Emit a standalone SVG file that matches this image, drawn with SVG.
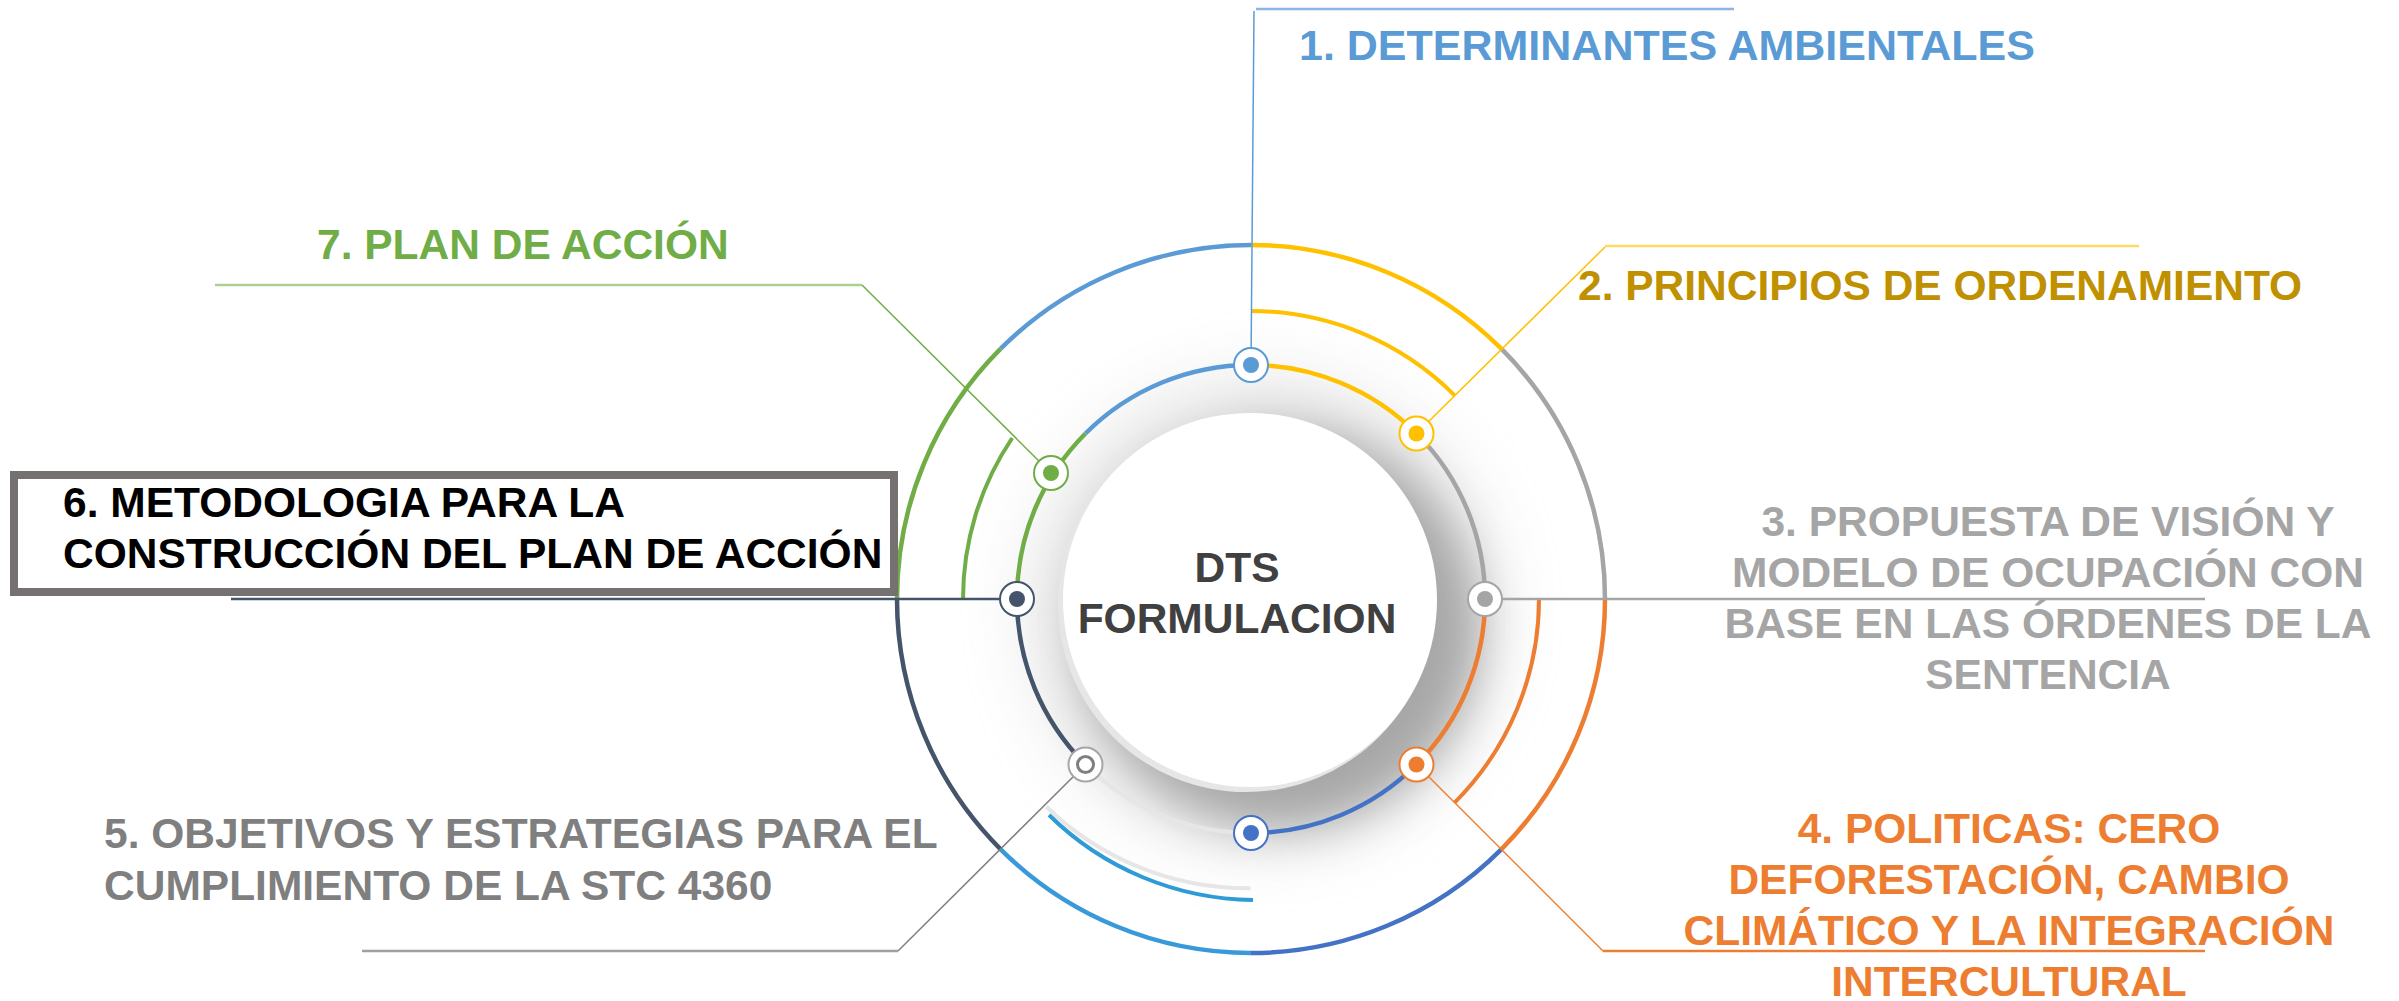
<svg xmlns="http://www.w3.org/2000/svg" width="2399" height="1001" viewBox="0 0 2399 1001">
<defs>
<filter id="blur" x="-50%" y="-50%" width="200%" height="200%"><feGaussianBlur stdDeviation="24"/></filter>
<filter id="blur2" x="-50%" y="-50%" width="200%" height="200%"><feGaussianBlur stdDeviation="35"/></filter>
<style>
.t{font-family:"Liberation Sans",Arial,sans-serif;font-weight:bold;font-size:42.5px}
.ring{fill:none;stroke-width:4.5}
.mid{fill:none;stroke-width:4}
.ld{fill:none;stroke-width:1.5}
.hz{fill:none;stroke-width:2.5}
.oc{fill:#fff;stroke-width:2}
</style>
</defs>
<rect width="2399" height="1001" fill="#fff"/>
<g id="center-shadow">
<circle cx="1262" cy="612" r="230" fill="#b0b0b0" opacity="0.35" filter="url(#blur2)"/>
<circle cx="1280" cy="630" r="200" fill="#6a6a6a" opacity="0.5" filter="url(#blur)"/>
<circle cx="1246" cy="604" r="188" fill="#e6e6e6"/>
<circle cx="1250" cy="600" r="187" fill="#fff"/>
</g>
<g id="outer-ring">
<path class="ring" stroke="#FFC000" d="M1251,245 A354,354 0 0 1 1501.3,348.7"/>
<path class="ring" stroke="#A5A5A5" d="M1501.3,348.7 A354,354 0 0 1 1605,599"/>
<path class="ring" stroke="#ED7D31" d="M1605,599 A354,354 0 0 1 1501.3,849.3"/>
<path class="ring" stroke="#4472C4" d="M1501.3,849.3 A354,354 0 0 1 1251,953"/>
<path class="ring" stroke="#3A9AD9" d="M1251,953 A354,354 0 0 1 1000.7,849.3"/>
<path class="ring" stroke="#44546A" d="M1000.7,849.3 A354,354 0 0 1 897,599"/>
<path class="ring" stroke="#70AD47" d="M897,599 A354,354 0 0 1 1000.7,348.7"/>
<path class="ring" stroke="#5B9BD5" d="M1000.7,348.7 A354,354 0 0 1 1251,245"/>
</g>
<g id="middle-arcs">
<path class="mid" stroke="#FFC000" d="M1251,311 A288,288 0 0 1 1454.6,395.4"/>
<path class="mid" stroke="#ED7D31" d="M1539,599 A288,288 0 0 1 1454.6,802.6"/>
<path class="mid" stroke="#70AD47" stroke-width="3" d="M963,599 A288,288 0 0 1 1012.2,438"/>
<path class="mid" stroke="#E6E6E6" d="M1250.4,888.3 A290,290 0 0 1 1046.4,806.7"/>
<path class="mid" stroke="#2E9BD6" d="M1253,900 A296,296 0 0 1 1049,815"/>
</g>
<g id="inner-ring">
<path class="ring" stroke-width="4" stroke="#FFC000" d="M1251,365 A234,234 0 0 1 1416.5,433.5"/>
<path class="ring" stroke-width="4" stroke="#A5A5A5" d="M1416.5,433.5 A234,234 0 0 1 1485,599"/>
<path class="ring" stroke-width="4" stroke="#ED7D31" d="M1485,599 A234,234 0 0 1 1416.5,764.5"/>
<path class="ring" stroke-width="4" stroke="#4472C4" d="M1416.5,764.5 A234,234 0 0 1 1251,833"/>
<path class="ring" stroke-width="4" stroke="#E6E6E6" d="M1251,833 A234,234 0 0 1 1085.5,764.5"/>
<path class="ring" stroke-width="4" stroke="#44546A" d="M1085.5,764.5 A234,234 0 0 1 1017,599"/>
<path class="ring" stroke-width="4" stroke="#70AD47" d="M1017,599 A234,234 0 0 1 1085.5,433.5"/>
<path class="ring" stroke-width="4" stroke="#5B9BD5" d="M1085.5,433.5 A234,234 0 0 1 1251,365"/>
</g>
<g id="connectors">
<path class="ld" stroke="#5B9BD5" d="M1251,365 L1254,11"/>
<path class="hz" stroke="#8DB4E2" stroke-width="2" d="M1256,9 L1734,9"/>
<path class="ld" stroke="#FFC000" d="M1416.5,433.5 L1605,247"/>
<path class="hz" stroke="#FFD966" stroke-width="2" d="M1605,246 L2139,246"/>
<path class="hz" stroke="#A5A5A5" stroke-width="2" d="M1485,599 L2205,599"/>
<path class="ld" stroke="#ED7D31" d="M1416.5,764.5 L1603,951"/>
<path class="hz" stroke="#ED7D31" stroke-width="2" d="M1603,951 L2205,951"/>
<path class="ld" stroke="#7F7F7F" d="M1085.5,764.5 L898,951"/>
<path class="hz" stroke="#A0A0A0" stroke-width="2" d="M898,951 L362,951"/>
<path class="hz" stroke="#44546A" stroke-width="2" d="M1017,599 L231,599"/>
<path class="ld" stroke="#70AD47" d="M1051,473 L862,285"/>
<path class="hz" stroke="#A9D18E" d="M862,285 L215,285"/>
</g>
<g id="node-1">
<circle class="oc" cx="1251" cy="365" r="17" stroke="#5B9BD5"/>
<circle cx="1251" cy="365" r="8" fill="#5B9BD5"/>
<text class="t" x="1299" y="60" fill="#5B9BD5" style="font-size:43px">1. DETERMINANTES AMBIENTALES</text>
</g>
<g id="node-2">
<circle class="oc" cx="1416.5" cy="433.5" r="17" stroke="#FFC000"/>
<circle cx="1416.5" cy="433.5" r="8" fill="#FFC000"/>
<text class="t" x="1578" y="300" fill="#BF9000">2. PRINCIPIOS DE ORDENAMIENTO</text>
</g>
<g id="node-3">
<circle class="oc" cx="1485" cy="599" r="17" stroke="#A5A5A5"/>
<circle cx="1485" cy="599" r="8" fill="#A5A5A5"/>
<text class="t" fill="#A5A5A5" text-anchor="middle"><tspan x="2048" y="536">3. PROPUESTA DE VISIÓN Y</tspan><tspan x="2048" y="587">MODELO DE OCUPACIÓN CON</tspan><tspan x="2048" y="638">BASE EN LAS ÓRDENES DE LA</tspan><tspan x="2048" y="689">SENTENCIA</tspan></text>
</g>
<g id="node-4">
<circle class="oc" cx="1416.5" cy="764.5" r="17" stroke="#ED7D31"/>
<circle cx="1416.5" cy="764.5" r="8" fill="#ED7D31"/>
<text class="t" fill="#ED7D31" text-anchor="middle"><tspan x="2009" y="843">4. POLITICAS: CERO</tspan><tspan x="2009" y="894">DEFORESTACIÓN, CAMBIO</tspan><tspan x="2009" y="945">CLIMÁTICO Y LA INTEGRACIÓN</tspan><tspan x="2009" y="996">INTERCULTURAL</tspan></text>
</g>
<g id="node-bottom">
<circle class="oc" cx="1251" cy="833" r="17" stroke="#4472C4"/>
<circle cx="1251" cy="833" r="8" fill="#4472C4"/>
</g>
<g id="node-5">
<circle class="oc" cx="1085.5" cy="764.5" r="17" stroke="#A6A6A6"/>
<circle cx="1085.5" cy="764.5" r="8" fill="#fff" stroke="#7F7F7F" stroke-width="3"/>
<text class="t" fill="#7F7F7F"><tspan x="104" y="848">5. OBJETIVOS Y ESTRATEGIAS PARA EL</tspan><tspan x="104" y="900">CUMPLIMIENTO DE LA STC 4360</tspan></text>
</g>
<g id="node-6">
<circle class="oc" cx="1017" cy="599" r="17" stroke="#44546A"/>
<circle cx="1017" cy="599" r="8" fill="#44546A"/>
<rect x="14" y="475" width="880" height="117" fill="#fff" stroke="#767171" stroke-width="8"/>
<text class="t" fill="#000"><tspan x="63" y="517">6. METODOLOGIA PARA LA</tspan><tspan x="63" y="568">CONSTRUCCIÓN DEL PLAN DE ACCIÓN</tspan></text>
</g>
<g id="node-7">
<circle class="oc" cx="1051" cy="473" r="17" stroke="#70AD47"/>
<circle cx="1051" cy="473" r="8" fill="#70AD47"/>
<text class="t" x="317" y="259" fill="#70AD47">7. PLAN DE ACCIÓN</text>
</g>
<g id="center">
<text class="t" fill="#404040" text-anchor="middle"><tspan x="1237" y="582">DTS</tspan><tspan x="1237" y="633">FORMULACION</tspan></text>
</g>
</svg>
